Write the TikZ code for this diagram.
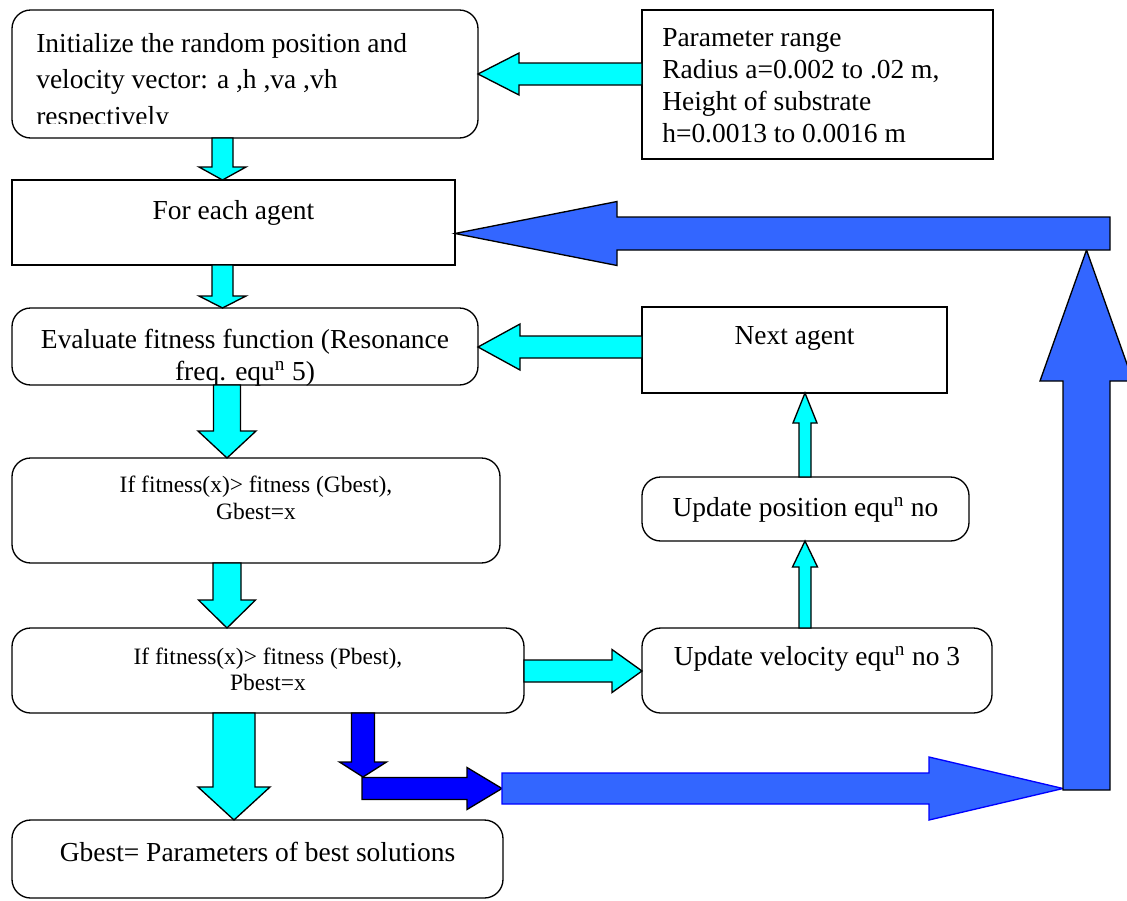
\documentclass[tikz,border=0pt]{standalone}
\usepackage{fontspec}
\setmainfont{Liberation Serif}
\usetikzlibrary{calc}
\definecolor{flowcyan}{RGB}{0,255,255}
\definecolor{flowblue}{RGB}{0,0,255}
\definecolor{loopblue}{RGB}{51,102,255}
\newcommand{\pxu}{0.75pt}
% block arrow: style, start, tip, shaft half width, head half width, head length
\newcommand{\blockarrow}[6]{%
  \coordinate (ah) at ($(#3)!#6*\pxu!(#2)$);
  \draw[#1] ($(#2)!#4*\pxu!90:(#3)$) -- ($(ah)!#4*\pxu!90:(#3)$) -- ($(ah)!#5*\pxu!90:(#3)$) -- (#3)
    -- ($(ah)!#5*\pxu!-90:(#3)$) -- ($(ah)!#4*\pxu!-90:(#3)$) -- ($(#2)!#4*\pxu!-90:(#3)$) -- cycle;
}
\tikzset{
  flowbox/.style={draw, line width=1pt, anchor=north west, inner sep=0pt, outer sep=0pt},
  roundbox/.style={flowbox, rounded corners=14pt},
  boxtext/.style={inner sep=0pt, font=\fontsize{20.6}{24}\selectfont},
  cyanarrow/.style={draw=black, fill=flowcyan, line width=1pt},
  darkarrow/.style={draw=black, fill=flowblue, line width=1pt},
  bigarrow/.style={draw=black, fill=loopblue, line width=1pt}
}
\begin{document}
\begin{tikzpicture}[x=0.75pt, y=-0.75pt]
  \useasboundingbox (0,0) rectangle (1127,900);
  % Boxes of the flow chart
  \node[roundbox, minimum width=466*\pxu, minimum height=128*\pxu] (init) at (12,10) {};
  \node[flowbox, minimum width=351*\pxu, minimum height=149*\pxu] (param) at (642,10) {};
  \node[flowbox, minimum width=443*\pxu, minimum height=85*\pxu] (agent) at (12,180) {};
  \node[roundbox, minimum width=466*\pxu, minimum height=77*\pxu] (fitness) at (12,308) {};
  \node[flowbox, minimum width=305*\pxu, minimum height=86*\pxu] (next) at (642,307) {};
  \node[roundbox, minimum width=488*\pxu, minimum height=105*\pxu] (gbest) at (12,458) {};
  \node[roundbox, minimum width=327*\pxu, minimum height=64*\pxu] (posn) at (642,477) {};
  \node[roundbox, minimum width=512*\pxu, minimum height=85*\pxu] (pbest) at (12,628) {};
  \node[roundbox, minimum width=350*\pxu, minimum height=85*\pxu] (veloc) at (642,628) {};
  \node[roundbox, minimum width=491*\pxu, minimum height=78*\pxu] (result) at (12,820) {};

  % Box texts
  \begin{scope}
    \clip (12,10) rectangle (478,123);
    \node[boxtext, anchor=north west, align=left, font=\fontsize{20.6}{27.4}\selectfont] (inittext) at ([shift={(24,23)}]init.north west)
      {Initialize the random position and\\velocity vector: a ,h ,va ,vh\\respectively};
  \end{scope}
  \node[boxtext, anchor=north west, align=left] (paramtext) at ([shift={(20,18)}]param.north west)
    {Parameter range\\Radius a=0.002 to .02 m,\\Height of substrate\\h=0.0013 to 0.0016 m};
  \node[boxtext, anchor=north] (agenttext) at ([shift={(0,20)}]agent.north) {For each agent};
  \node[boxtext, anchor=north, align=center, font=\fontsize{20.6}{24}\selectfont] (fitnesstext) at ([shift={(0,21)}]fitness.north)
    {Evaluate fitness function (Resonance\\freq. equ\textsuperscript{n} 5)};
  \node[boxtext, anchor=north] (nexttext) at ([shift={(0,19)}]next.north) {Next agent};
  \node[boxtext, anchor=north, align=center, font=\fontsize{17.6}{20.25}\selectfont] (gbesttext) at ([shift={(0,18)}]gbest.north)
    {If fitness(x)> fitness (Gbest),\\Gbest=x};
  \node[boxtext, anchor=north] (posntext) at ([shift={(0,20)}]posn.north) {Update position equ\textsuperscript{n} no};
  \node[boxtext, anchor=north, align=center, font=\fontsize{17.6}{19.5}\selectfont] (pbesttext) at ([shift={(0,20)}]pbest.north)
    {If fitness(x)> fitness (Pbest),\\Pbest=x};
  \node[boxtext, anchor=north] (veloctext) at ([shift={(0,18)}]veloc.north) {Update velocity equ\textsuperscript{n} no 3};
  \node[boxtext, anchor=north] (resulttext) at ([shift={(0,22)}]result.north) {Gbest= Parameters of best solutions};

  % Arrow end points
  \coordinate (c1s) at (param.west |- 0,74);   \coordinate (c1t) at (init.east |- 0,74);
  \coordinate (c2s) at (init.south -| 222.5,0); \coordinate (c2t) at (agent.north -| 222.5,0);
  \coordinate (c3s) at (agent.south -| 222.5,0); \coordinate (c3t) at (fitness.north -| 222.5,0);
  \coordinate (c4s) at (next.west |- 0,347);   \coordinate (c4t) at (fitness.east |- 0,347);
  \coordinate (c5s) at (fitness.south -| 227,0); \coordinate (c5t) at (gbest.north -| 227,0);
  \coordinate (c6s) at (gbest.south -| 227,0); \coordinate (c6t) at (pbest.north -| 227,0);
  \coordinate (c7s) at (pbest.south -| 234,0); \coordinate (c7t) at (result.north -| 234,0);
  \coordinate (c8s) at (pbest.east |- 0,671);  \coordinate (c8t) at (veloc.west |- 0,671);
  \coordinate (c9s) at (veloc.north -| 805,0); \coordinate (c9t) at (posn.south -| 805,0);
  \coordinate (c10s) at (posn.north -| 805,0); \coordinate (c10t) at (next.south -| 805,0);

  % Cyan flow arrows
  \blockarrow{cyanarrow}{c1s}{c1t}{11}{21}{41}
  \blockarrow{cyanarrow}{c2s}{c2t}{10.5}{23.5}{13}
  \blockarrow{cyanarrow}{c3s}{c3t}{10.5}{23.5}{12}
  \blockarrow{cyanarrow}{c4s}{c4t}{11}{23}{42}
  \blockarrow{cyanarrow}{c5s}{c5t}{13.5}{29}{27}
  \blockarrow{cyanarrow}{c6s}{c6t}{14}{28.5}{28}
  \blockarrow{cyanarrow}{c7s}{c7t}{21}{36}{33}
  \blockarrow{cyanarrow}{c8s}{c8t}{11}{21.5}{30}
  \blockarrow{cyanarrow}{c9s}{c9t}{6}{12.5}{26}
  \blockarrow{cyanarrow}{c10s}{c10t}{6}{12}{30}

  % Loop back to the next agent
  \coordinate (d1s) at (pbest.south -| 363,0); \coordinate (d1t) at (363,777);
  \coordinate (d2s) at (362,788.5); \coordinate (loopin) at (502,788.5);
  \coordinate (loopcorner) at (1063,788.5);
  \coordinate (loopup) at (1086.5,790); \coordinate (looptop) at (1086.5,250);
  \coordinate (loopleft) at (1110,233.5); \coordinate (loopend) at (agent.east |- 0,233.5);
  \blockarrow{darkarrow}{d2s}{loopin}{11}{21}{35}
  \blockarrow{darkarrow}{d1s}{d1t}{11.5}{23.5}{15}
  \blockarrow{bigarrow, draw=flowblue}{loopin}{loopcorner}{15.5}{31.5}{134}
  \blockarrow{bigarrow}{loopup}{looptop}{23.5}{46.5}{131}
  \blockarrow{bigarrow}{loopleft}{loopend}{16.5}{32}{162}
\end{tikzpicture}
\end{document}
